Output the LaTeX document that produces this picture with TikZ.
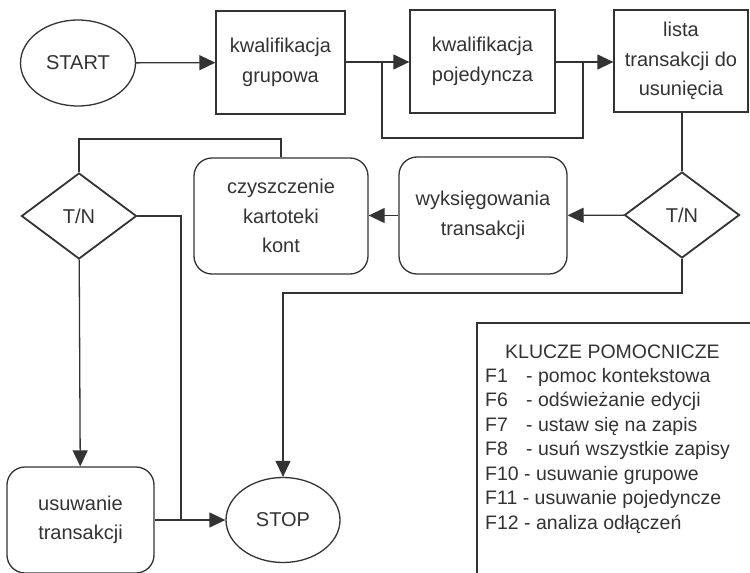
\documentclass[tikz,border=0pt]{standalone}
\usepackage{fontspec}
\setmainfont{Liberation Sans}
\usetikzlibrary{shapes.geometric,arrows.meta}
\definecolor{ink}{HTML}{333333}
\newcommand{\fkey}[1]{\makebox[2.1em][l]{#1}}
\begin{document}
\begin{tikzpicture}[x=1pt,y=-1pt,
  every node/.style={text=ink,font=\fontsize{20}{29.5}\selectfont,align=center,inner sep=0pt},
  line/.style={draw=ink,line width=1.3pt},
  flow/.style={line,-{Triangle[length=16pt,width=15pt]}},
  procbox/.style={line,rectangle,minimum width=#1},
  roundbox/.style={line,rectangle,rounded corners=18pt,minimum width=#1},
  term/.style={line,ellipse,minimum width=115pt,minimum height=86pt},
  decide/.style={draw=ink,line width=1.8pt,diamond,aspect=1.33,minimum width=115pt,minimum height=86pt},
  keytext/.style={anchor=west,font=\fontsize{19.5}{22}\selectfont}]
\useasboundingbox (0,0) rectangle (750,573);
\fill[white] (0,0) rectangle (750,573);

% top row
\node[term] (start) at (78,63) {START};
\node[procbox=129pt,minimum height=103pt] (kg) at (280.5,62.5) {kwalifikacja\\grupowa};
\node[procbox=145pt,minimum height=103pt] (kp) at (482.5,61.5) {kwalifikacja\\pojedyncza};
\node[procbox=134pt,minimum height=102pt] (lista) at (681,61) {lista\\transakcji do\\usunięcia};

% middle row
\node[decide] (dR) at (682,215) {T/N};
\node[roundbox=168pt,minimum height=117pt] (wyk) at (483,215.5) {wyksięgowania\\transakcji};
\node[roundbox=174pt,minimum height=116pt] (czy) at (281,216) {czyszczenie\\kartoteki\\kont};
\node[decide] (dL) at (79,216) {T/N};

% bottom row
\node[roundbox=147pt,minimum height=106pt] (usu) at (80.5,520) {usuwanie\\transakcji};
\node[term,minimum width=114pt,minimum height=85pt] (stop) at (283,520) {STOP};

% junction points
\coordinate (loopA) at (382,62);
\coordinate (loopB) at (583,62);
\coordinate (topL) at (79,139);
\coordinate (rDrop) at (682,293);
\coordinate (sideL) at (181,216);
\coordinate (joinL) at (181,520);

% connectors
\draw[flow] (start) -- (kg);
\draw[flow] (kg.east |- loopA) -- (kp.west |- loopA);
\draw[flow] (kp.east |- loopB) -- (lista.west |- loopB);
\draw[line] (loopA) -- (loopA |- 0,138) -- (loopB |- 0,138) -- (loopB);
\draw[line] (lista.south -| dR.north) -- (dR.north);
\draw[flow] (dR) -- (wyk);
\draw[flow] (wyk.west) -- (czy.east |- wyk.west);
\draw[line] (czy.north) |- (topL) -- (dL.north);
\draw[flow] (dL) -- (usu);
\draw[line] (dL.east) -- (sideL) -- (joinL);
\draw[flow] (usu.east) -- (stop.west);
\draw[flow] (dR.south) -- (rDrop) -| (stop.north);

% key list
\draw[line] (750,323) -- (477,323) -- (477,573);
\node[keytext] (kh) at (505,352) {KLUCZE POMOCNICZE};
\node[keytext] (k1) at (485,377) {\fkey{F1}- pomoc kontekstowa};
\node[keytext] (k6) at (485,401.5) {\fkey{F6}- odświeżanie edycji};
\node[keytext] (k7) at (485,426) {\fkey{F7}- ustaw się na zapis};
\node[keytext] (k8) at (485,450.5) {\fkey{F8}- usuń wszystkie zapisy};
\node[keytext] (k10) at (485,475) {F10 - usuwanie grupowe};
\node[keytext] (k11) at (485,499.5) {F11 - usuwanie pojedyncze};
\node[keytext] (k12) at (485,524) {F12 - analiza odłączeń};
\end{tikzpicture}
\end{document}
